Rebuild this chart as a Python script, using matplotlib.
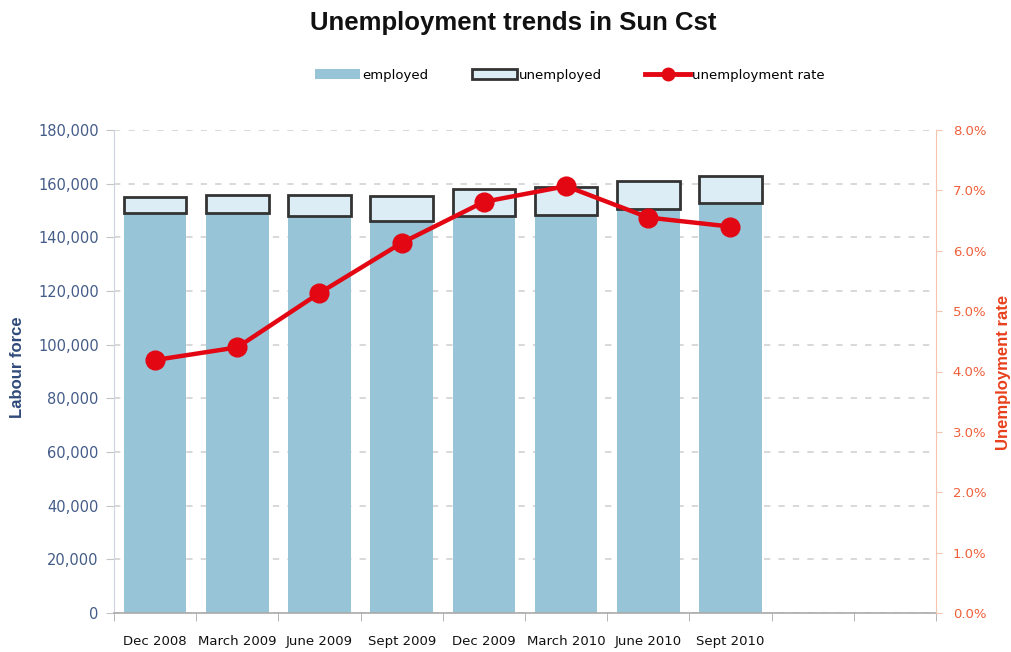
import matplotlib
matplotlib.use("Agg")
import numpy as np
import matplotlib.pyplot as plt
from matplotlib import font_manager
from matplotlib.ticker import FuncFormatter
from matplotlib.lines import Line2D
from matplotlib.patches import Patch

# Quarterly labour force figures
periods = ["Dec 2008", "March 2009", "June 2009", "Sept 2009",
           "Dec 2009", "March 2010", "June 2010", "Sept 2010"]
employed = [149000, 149200, 148000, 146200, 148000, 148300, 150500, 152700]
unemployed = [6000, 6600, 7700, 9200, 9900, 10600, 10600, 10200]
unemployment_rate = [4.19, 4.40, 5.30, 6.13, 6.81, 7.07, 6.55, 6.40]
n_slots = 10  # category slots on the x axis (two left empty)

names = {f.name for f in font_manager.fontManager.ttflist}
narrow = "Liberation Sans Narrow" if "Liberation Sans Narrow" in names else "Liberation Sans"

EMP_COLOR = "#97c4d6"
UNEMP_COLOR = "#dcedf5"
EDGE = "#333333"
RED = "#e30613"
BLUE_TXT = "#445c88"
ORANGE_TXT = "#ef5f3a"

W, H = 1012, 652
fig = plt.figure(figsize=(W / 100, H / 100), dpi=100)
ax = fig.add_axes([114 / W, 1 - 613 / H, (936 - 114) / W, (613 - 130) / H])

x = np.arange(len(periods))
ax.set_xlim(-0.5, n_slots - 0.5)
ax.set_ylim(0, 180000)

ax.bar(x, employed, width=0.76, color=EMP_COLOR, zorder=2)
ax.bar(x, unemployed, bottom=employed, width=0.76, facecolor=UNEMP_COLOR,
       edgecolor=EDGE, linewidth=2, zorder=3)

ax.set_yticks(np.arange(0, 180001, 20000))
ax.yaxis.set_major_formatter(FuncFormatter(lambda v, p: f"{v:,.0f}"))
ax.yaxis.grid(True, linestyle=(0, (3.5, 4.5)), color="#d6d6d6", linewidth=1.3)
ax.set_axisbelow(True)
ax.tick_params(axis="y", length=6, color="#c4c4c4", labelsize=10.5,
               labelcolor=BLUE_TXT, pad=5)

ax.set_xticks(x)
ax.set_xticklabels(periods)
ax.set_xticks(np.arange(-0.5, n_slots, 1), minor=True)
ax.tick_params(axis="x", which="major", length=0, pad=16, labelsize=9.5,
               labelcolor="#111111")
ax.tick_params(axis="x", which="minor", length=6, color="#aaaaaa")

for s in ("top", "right"):
    ax.spines[s].set_visible(False)
ax.spines["left"].set_color("#cdd3e0")
ax.spines["bottom"].set_color("#aaaaaa")
ax.spines["bottom"].set_linewidth(1.2)

ax2 = ax.twinx()
ax2.set_ylim(0, 8)
ax2.plot(x, unemployment_rate, color=RED, linewidth=3.2, marker="o",
         markersize=13.5, zorder=5)
ax2.set_yticks(np.arange(0, 8.01, 1))
ax2.yaxis.set_major_formatter(FuncFormatter(lambda v, p: f"{v:.1f}%"))
ax2.tick_params(axis="y", length=4, color="#f6c4ad", labelsize=9.5,
                labelcolor=ORANGE_TXT, pad=8)
for s in ("top", "left", "bottom"):
    ax2.spines[s].set_visible(False)
ax2.spines["right"].set_color("#f6c4ad")

fig.text(513 / W, 1 - 23 / H, "Unemployment trends in Sun Cst",
         ha="center", va="center", fontsize=18.5, fontweight="bold",
         family="Liberation Sans", color="#111111")

fig.text(18 / W, 1 - 367 / H, "Labour force", rotation=90, ha="center",
         va="center", fontsize=12, fontweight="bold", family=narrow,
         color="#2f4a7a")
fig.text(1004 / W, 1 - 372 / H, "Unemployment rate", rotation=90,
         ha="center", va="center", fontsize=12, fontweight="bold",
         family=narrow, color="#e8401c")

handles = [
    Patch(facecolor=EMP_COLOR, edgecolor="none"),
    Patch(facecolor=UNEMP_COLOR, edgecolor=EDGE, linewidth=2),
    Line2D([0], [0], color=RED, linewidth=3.5, marker="o", markersize=9),
]
fig.legend(handles, ["employed", "unemployed", "unemployment rate"],
           loc="center", bbox_to_anchor=(570 / W, 1 - 75 / H), ncol=3,
           frameon=False, fontsize=9.5, handlelength=3.4,
           handletextpad=0.15, columnspacing=3.3)

fig.savefig("out.png", dpi=100)
